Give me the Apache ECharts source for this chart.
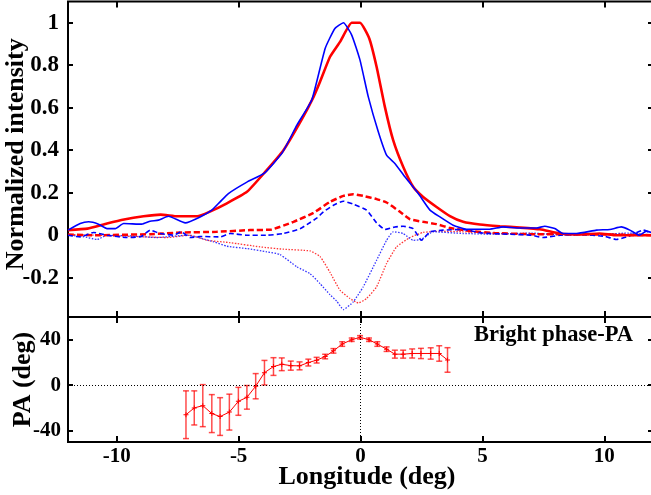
<!DOCTYPE html>
<html>
<head>
<meta charset="utf-8">
<script src="https://cdn.jsdelivr.net/npm/echarts@6/dist/echarts.min.js"></script>
<style>
html,body{margin:0;padding:0;background:#fff;}
#chart{width:651px;height:495px;}
</style>
</head>
<body>
<div id="chart"></div>
<script>
// ---------- Top panel: normalized intensity profiles ----------
const redILon = [-12, -11.2, -10.4, -9.7, -8.9, -8.2, -7.5, -6.7, -6.2, -5.5, -4.66, -3.91, -3.16, -2.41, -1.93, -1.66, -1.25, -0.84, -0.36, -0.02, 0.36, 0.66, 1.0, 1.34, 1.75, 2.16, 2.57, 3.12, 3.67, 4.21, 4.9, 5.72, 6.54, 7.36, 8.18, 9.0, 9.8, 10.5, 11.45, 12];
const redIVal = [0.024, 0.031, 0.055, 0.074, 0.089, 0.097, 0.089, 0.089, 0.11, 0.149, 0.204, 0.298, 0.40, 0.545, 0.65, 0.722, 0.84, 0.91, 1.0, 1.0, 0.926, 0.793, 0.604, 0.447, 0.322, 0.228, 0.18, 0.133, 0.090, 0.063, 0.050, 0.042, 0.036, 0.028, 0.008, 0.003, 0.008, 0, 0, 0];

const blueILon = [-12, -11.5, -11.15, -10.75, -10.4, -10.06, -9.72, -8.97, -8.63, -8.29, -7.88, -7.19, -6.58, -6.1, -5.76, -5.42, -4.66, -3.93, -3.2, -2.61, -2.0, -1.45, -1.05, -0.70, -0.36, -0.02, 0.32, 0.73, 1.07, 1.41, 1.82, 2.37, 2.85, 3.26, 3.8, 4.35, 5.3, 5.85, 6.54, 7.22, 7.56, 7.97, 8.31, 8.86, 9.68, 10.23, 10.7, 11.05, 11.45, 11.73, 12];
const blueIVal = [0.024, 0.055, 0.063, 0.052, 0.031, 0.031, 0.055, 0.052, 0.066, 0.071, 0.089, 0.058, 0.086, 0.118, 0.157, 0.196, 0.25, 0.293, 0.39, 0.518, 0.636, 0.879, 0.973, 1.0, 0.942, 0.824, 0.651, 0.487, 0.377, 0.338, 0.275, 0.196, 0.118, 0.086, 0.047, 0.028, 0.028, 0.039, 0.034, 0.034, 0.042, 0.031, 0.008, 0.008, 0.024, 0.027, 0.039, 0.024, 0, 0.019, 0.01];

const redLLon = [-12, -10.8, -8.63, -7.26, -5.9, -4.53, -3.64, -2.75, -1.93, -1.25, -0.7, -0.3, 0.11, 0.66, 1.07, 1.62, 2.03, 2.57, 3.12, 3.67, 4.49, 5.5, 7, 8.5, 10, 12];
const redLVal = [0.003, 0, 0.005, 0.013, 0.016, 0.024, 0.027, 0.063, 0.105, 0.157, 0.185, 0.193, 0.185, 0.170, 0.154, 0.110, 0.075, 0.063, 0.052, 0.034, 0.020, 0.01, 0.005, 0.005, 0.003, 0];

const blueLLon = [-12, -11.5, -10.95, -10.4, -9.58, -9.0, -8.63, -8.22, -7.67, -7.35, -6.99, -6.58, -5.76, -5.35, -4.67, -3.85, -3.16, -2.48, -2.2, -1.8, -1.52, -1.11, -0.7, -0.3, 0.25, 0.66, 1.0, 1.41, 1.75, 2.16, 2.5, 2.85, 3.39, 4.21, 5.0, 6.0, 7.0, 7.49, 8.2, 9.0, 10.0, 10.5, 11.0, 11.6, 12];
const blueLVal = [0, -0.008, 0.013, 0, -0.011, -0.006, 0.024, 0.008, 0, 0.016, -0.011, -0.006, -0.008, 0.008, 0, 0, 0.008, 0.03, 0.05, 0.08, 0.110, 0.141, 0.160, 0.146, 0.118, 0.058, 0.027, 0.039, 0.042, 0.031, -0.024, 0.016, 0.024, 0.027, 0.01, 0.005, 0, -0.011, 0, 0.003, -0.005, -0.020, -0.005, 0.024, 0.005];

const redVLon = [-12, -10.8, -9.3, -7.94, -7.0, -6.3, -5.35, -4.12, -3.16, -2.07, -1.66, -1.25, -0.84, -0.43, -0.09, 0.25, 0.66, 1.07, 1.48, 2.03, 2.57, 3.26, 4.21, 5.5, 7, 8.5, 10, 12];
const redVVal = [0.003, 0, -0.006, -0.011, 0, -0.024, -0.035, -0.055, -0.066, -0.074, -0.10, -0.175, -0.259, -0.298, -0.319, -0.298, -0.243, -0.133, -0.055, -0.011, 0.013, 0.019, 0.016, 0.01, 0.005, 0.005, 0.005, 0];

const blueVLon = [-12, -11.4, -10.8, -10.4, -9.3, -8.36, -7.1, -6.03, -5.48, -4.66, -3.85, -3.3, -2.61, -2.07, -1.66, -1.25, -0.98, -0.7, -0.3, 0.11, 0.66, 1.07, 1.34, 1.75, 2.16, 2.5, 2.98, 4.21, 5.5, 7, 8.5, 10, 11, 12];
const blueVVal = [0, -0.006, -0.020, 0, -0.004, -0.011, 0, -0.031, -0.052, -0.063, -0.078, -0.091, -0.149, -0.181, -0.228, -0.280, -0.31, -0.350, -0.314, -0.243, -0.118, -0.024, 0.016, 0.008, -0.024, -0.020, 0.016, 0.008, 0.005, 0.01, 0, 0.005, 0.01, 0];

// ---------- Bottom panel: position angle ----------
const paLon = [-7.16, -6.82, -6.47, -6.10, -5.76, -5.38, -5.01, -4.66, -4.30, -3.94, -3.57, -3.23, -2.86, -2.50, -2.14, -1.80, -1.45, -1.11, -0.75, -0.36, -0.02, 0.35, 0.69, 1.07, 1.41, 1.75, 2.12, 2.48, 2.88, 3.23, 3.57];
const paVal = [-26, -20, -18, -25, -27.6, -23.7, -14.2, -10.7, -0.9, 11, 16.4, 18.4, 17.2, 17, 19.9, 22, 25.2, 30.2, 36.2, 40, 42.1, 40, 36.2, 31.7, 27.3, 27.3, 27.9, 27.9, 27.9, 27.9, 22.2];
const paErr = [21, 15, 18.5, 16.7, 16.6, 15.8, 12.3, 10.4, 11.1, 10.8, 7.8, 5.6, 4, 3.5, 3, 2.5, 2, 2, 2, 1.5, 1.5, 1.5, 2, 2, 3.5, 3.5, 4, 4.5, 5, 6.8, 10.8];

// ---------- Tick labels ----------
const lonTicks = [-10, -5, 0, 5, 10];
const intensityTicks = [-0.2, 0, 0.2, 0.4, 0.6, 0.8, 1];
const paTicks = [-40, 0, 40];
const panelLabel = 'Bright phase-PA';

const zip = (xs, ys) => xs.map((x, i) => [x, ys[i]]);
const FONT = 'Liberation Serif';
const RED = '#ff0000', BLUE = '#0000ff';

function xAx(gridIndex, position, showLabels, name) {
  return {
    type: 'value', gridIndex, position, min: -12, max: 12,
    axisLine: { show: false, onZero: false },
    splitLine: { show: false },
    axisTick: { show: true, inside: true, length: 6, customValues: lonTicks, lineStyle: { color: '#000', width: 2 } },
    axisLabel: { show: showLabels, customValues: lonTicks, margin: 4, color: '#000', fontFamily: FONT, fontWeight: 'bold', fontSize: 21 },
    name: name || '', nameLocation: 'middle', nameGap: 22, nameMoveOverlap: false,
    nameTextStyle: { color: '#000', fontFamily: FONT, fontWeight: 'bold', fontSize: 26, padding: [0, 0, 0, 13] }
  };
}
function yAx(gridIndex, position, min, max, ticks, showLabels, fontSize, margin, name, nameGap, namePad) {
  return {
    type: 'value', gridIndex, position, min, max,
    axisLine: { show: false, onZero: false },
    splitLine: { show: false },
    axisTick: { show: true, inside: true, length: 5, customValues: ticks, lineStyle: { color: '#000', width: 2 } },
    axisLabel: { show: showLabels, customValues: ticks, margin, color: '#000', fontFamily: FONT, fontWeight: 'bold', fontSize },
    name: name || '', nameLocation: 'middle', nameGap: nameGap || 0, nameMoveOverlap: false,
    nameTextStyle: { color: '#000', fontFamily: FONT, fontWeight: 'bold', fontSize: 26, padding: namePad || 0 }
  };
}
function lineSeries(name, xs, ys, color, width, type) {
  return {
    name, type: 'line', xAxisIndex: 0, yAxisIndex: 0,
    data: zip(xs, ys), showSymbol: false, symbol: 'none', smooth: 0.15,
    lineStyle: { color, width, type, cap: 'butt' },
    emphasis: { disabled: true }, silent: true, z: 3
  };
}

const errData = paLon.map((x, i) => [x, paVal[i] - paErr[i], paVal[i] + paErr[i]]);

const option = {
  animation: false,
  backgroundColor: '#fff',
  grid: [
    { left: 68, top: 1.5, width: 585, height: 315.5, show: true, borderColor: '#000', borderWidth: 2, backgroundColor: 'transparent', containLabel: false, outerBoundsMode: 'none' },
    { left: 68, top: 317, width: 585, height: 125, show: true, borderColor: '#000', borderWidth: 2, backgroundColor: 'transparent', containLabel: false, outerBoundsMode: 'none' }
  ],
  xAxis: [
    xAx(0, 'bottom', false),
    xAx(0, 'top', false),
    xAx(1, 'bottom', true, 'Longitude (deg)'),
    xAx(1, 'top', false)
  ],
  yAxis: [
    yAx(0, 'left', -0.385, 1.1, intensityTicks, true, 23, 9, 'Normalized intensity', 39, [0, 0, 0, 10]),
    yAx(0, 'right', -0.385, 1.1, intensityTicks, false, 23, 9),
    yAx(1, 'left', -50, 60, paTicks, true, 21, 7, 'PA (deg)', 32),
    yAx(1, 'right', -50, 60, paTicks, false, 21, 7)
  ],
  graphic: [
    { type: 'text', right: 18, top: 324, style: { text: panelLabel, fill: '#000', font: 'bold 22.5px "Liberation Serif"' } }
  ],
  series: [
    lineSeries('Red V', redVLon, redVVal, 'rgba(255,0,0,0.8)', 1.3, [1.5, 1.5]),
    lineSeries('Blue V', blueVLon, blueVVal, 'rgba(0,0,255,0.8)', 1.3, [1.5, 1.5]),
    lineSeries('Red L', redLLon, redLVal, RED, 2.5, [6, 3]),
    lineSeries('Blue L', blueLLon, blueLVal, BLUE, 1.6, [5, 3]),
    lineSeries('Red I', redILon, redIVal, RED, 2.6, 'solid'),
    lineSeries('Blue I', blueILon, blueIVal, BLUE, 1.6, 'solid'),
    {
      name: 'PA error', type: 'custom', xAxisIndex: 2, yAxisIndex: 2,
      data: errData, encode: { x: 0, y: [1, 2] }, silent: true, z: 3,
      renderItem: function (params, api) {
        const x = api.value(0);
        const lo = api.coord([x, api.value(1)]);
        const hi = api.coord([x, api.value(2)]);
        const w = 3;
        const st = { stroke: 'rgba(255,0,0,0.7)', lineWidth: 1.5 };
        return {
          type: 'group', children: [
            { type: 'line', shape: { x1: lo[0], y1: lo[1], x2: hi[0], y2: hi[1] }, style: st },
            { type: 'line', shape: { x1: lo[0] - w, y1: lo[1], x2: lo[0] + w, y2: lo[1] }, style: st },
            { type: 'line', shape: { x1: hi[0] - w, y1: hi[1], x2: hi[0] + w, y2: hi[1] }, style: st }
          ]
        };
      }
    },
    {
      name: 'PA', type: 'line', xAxisIndex: 2, yAxisIndex: 2,
      data: zip(paLon, paVal),
      symbol: 'path://M2,0H3V2H5V3H3V5H2V3H0V2H2Z', symbolSize: 5, showSymbol: true,
      itemStyle: { color: RED }, lineStyle: { color: RED, width: 1 },
      emphasis: { disabled: true }, silent: true, z: 4,
      markLine: {
        silent: true, symbol: 'none', label: { show: false },
        lineStyle: { color: '#000', width: 1, type: [1, 2] },
        data: [{ yAxis: 0 }, { xAxis: 0 }]
      }
    }
  ]
};

const chart = echarts.init(document.getElementById('chart'), null, { renderer: 'canvas' });
chart.setOption(option);
</script>
</body>
</html>
